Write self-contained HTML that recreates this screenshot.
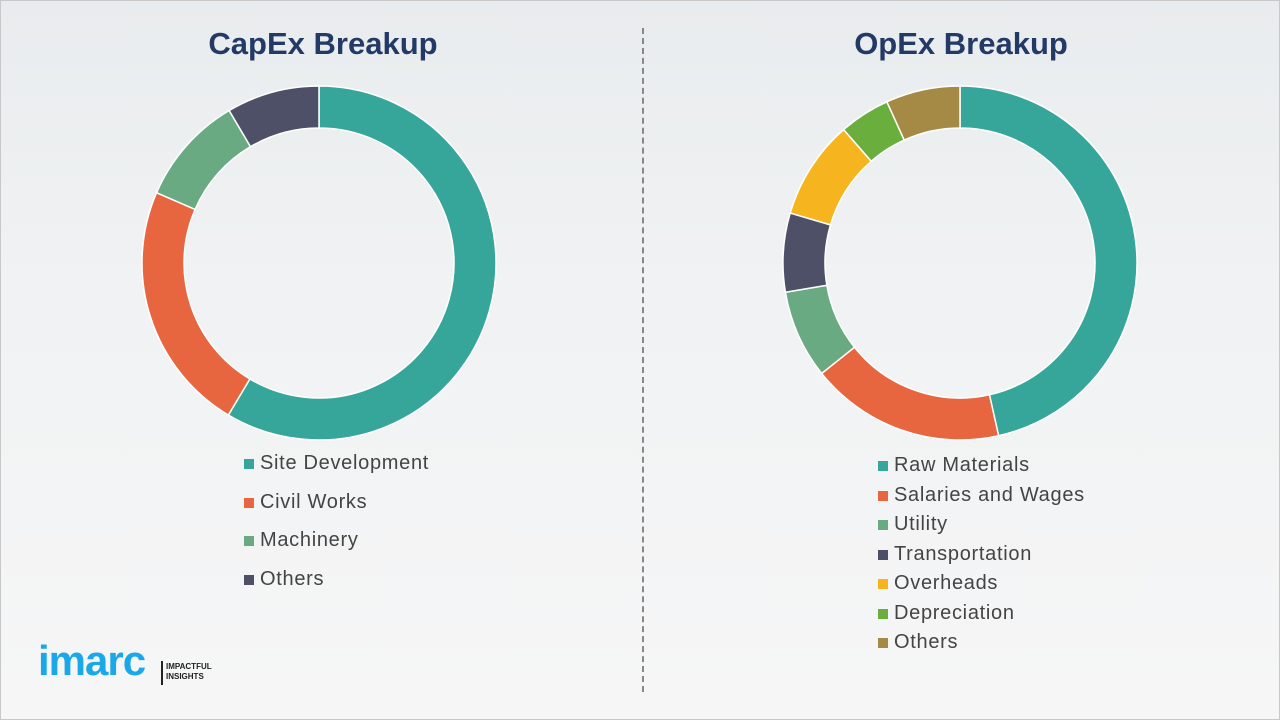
<!DOCTYPE html>
<html><head><meta charset="utf-8"><style>
html,body{margin:0;padding:0}
body{width:1280px;height:720px;position:relative;overflow:hidden;font-family:"Liberation Sans",sans-serif;
background:linear-gradient(180deg,#e9ecee 0%,#f0f2f3 40%,#f3f4f5 70%,#f6f6f6 100%);}
.frame{position:absolute;left:0;top:0;width:1278px;height:718px;border:1px solid #c8c8c8;}
.title{position:absolute;top:26px;font-size:31px;font-weight:bold;color:#243a66;width:400px;text-align:center}
.leg{position:absolute;font-size:20px;color:#444;letter-spacing:0.7px}
.leg div{position:relative;padding-left:16px;white-space:nowrap}
.leg span{position:absolute;left:0;width:10px;height:10px}
</style></head><body>
<div class="frame"></div>
<div class="title" style="left:123px">CapEx Breakup</div>
<div class="title" style="left:761px">OpEx Breakup</div>
<div style="position:absolute;left:642px;top:28px;height:664px;border-left:2px dashed #888"></div>
<svg id="s" width="1280" height="720" style="position:absolute;left:0;top:0"></svg>
<div class="leg" style="left:244px;top:444px;line-height:38.5px">
<div><span style="background:#36a69a;top:15px"></span>Site Development</div>
<div><span style="background:#e8663f;top:15px"></span>Civil Works</div>
<div><span style="background:#6aaa82;top:15px"></span>Machinery</div>
<div><span style="background:#4e5068;top:15px"></span>Others</div>
</div>
<div class="leg" style="left:878px;top:451px;line-height:29.5px">
<div><span style="background:#36a69a;top:10px"></span>Raw Materials</div>
<div><span style="background:#e8663f;top:10px"></span>Salaries and Wages</div>
<div><span style="background:#6aaa82;top:10px"></span>Utility</div>
<div><span style="background:#4e5068;top:10px"></span>Transportation</div>
<div><span style="background:#f6b51e;top:10px"></span>Overheads</div>
<div><span style="background:#6aae3e;top:10px"></span>Depreciation</div>
<div><span style="background:#a58a45;top:10px"></span>Others</div>
</div>
<div style="position:absolute;left:38px;top:640px;font-size:42px;font-weight:bold;color:#1ba8e8;letter-spacing:-1px;line-height:42px">imarc</div>
<div style="position:absolute;left:161px;top:661px;height:24px;border-left:2px solid #222"></div>
<div style="position:absolute;left:166px;top:662px;font-size:8px;font-weight:bold;color:#222;line-height:10px">IMPACTFUL<br>INSIGHTS</div>
<script>
var s=document.getElementById('s'),R=177,r=135;
function arc(cx,cy,a0,a1,c){
 function p(a,rad){a=(a-90)*Math.PI/180;return [cx+rad*Math.cos(a),cy+rad*Math.sin(a)];}
 var l=(a1-a0)>180?1:0,A=p(a0,R),B=p(a1,R),C=p(a1,r),D=p(a0,r);
 var d='M'+A+' A'+R+' '+R+' 0 '+l+' 1 '+B+' L'+C+' A'+r+' '+r+' 0 '+l+' 0 '+D+'Z';
 s.innerHTML+='<path d="'+d+'" fill="'+c+'" stroke="#fff" stroke-width="1.5"/>';
}
function donut(cx,cy,st){var a=0;st.forEach(function(x){arc(cx,cy,a,x[0],x[1]);a=x[0];});}
donut(319,263,[[210.8,'#36a69a'],[293.4,'#e8663f'],[329.5,'#6aaa82'],[360,'#4e5068']]);
donut(960,263,[[167.4,'#36a69a'],[231.4,'#e8663f'],[260.5,'#6aaa82'],[286.4,'#4e5068'],[318.9,'#f6b51e'],[335.6,'#6aae3e'],[360,'#a58a45']]);
</script>
</body></html>
